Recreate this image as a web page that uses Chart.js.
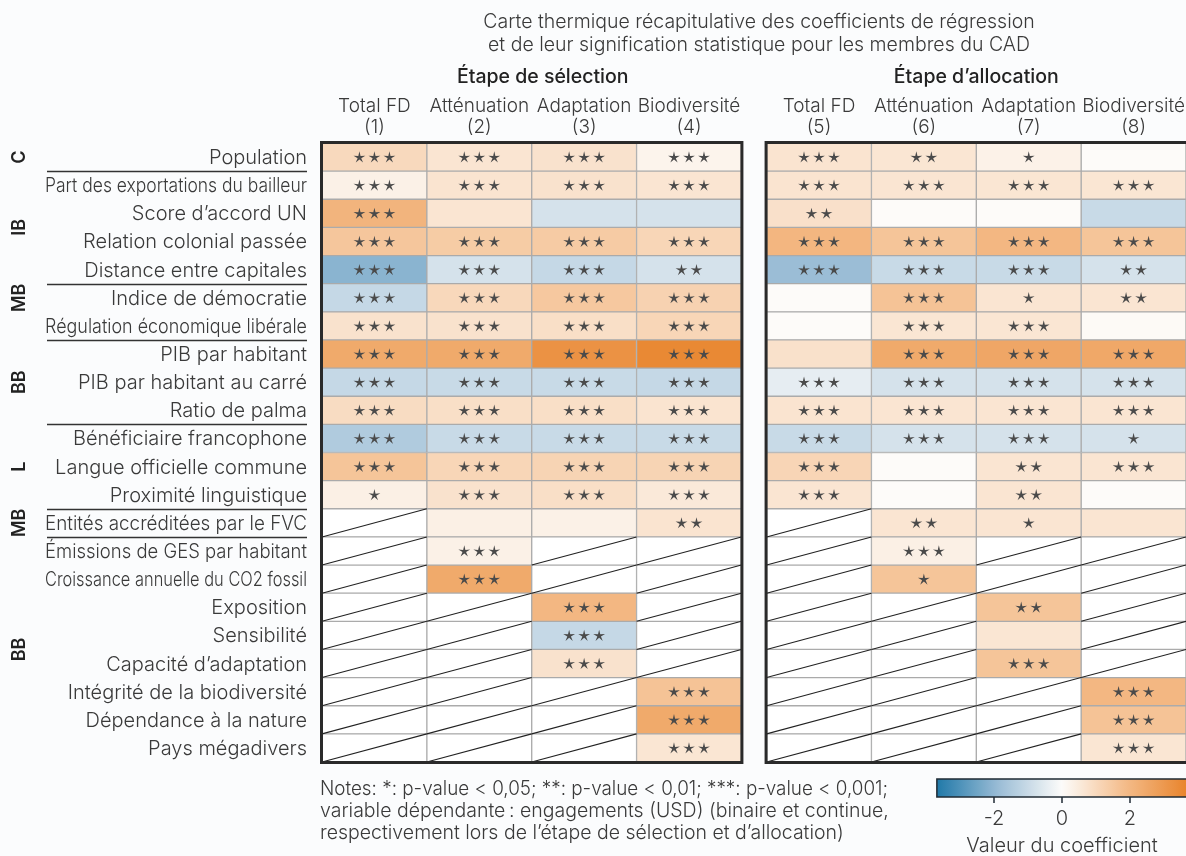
<!DOCTYPE html>
<html lang="fr">
<head>
<meta charset="utf-8">
<script src="https://cdn.jsdelivr.net/npm/chart.js@4.4.1/dist/chart.umd.min.js"></script>
<style>
  html, body { margin: 0; padding: 0; background: #fbfcfd; }
  #wrap { position: relative; width: 1186px; height: 856px; }
</style>
</head>
<body>
<div id="wrap"><canvas id="heat"></canvas></div>
<script>
// --- data ---
const rowLabels = [
  'Population', 'Part des exportations du bailleur', 'Score d’accord UN',
  'Relation colonial passée', 'Distance entre capitales', 'Indice de démocratie',
  'Régulation économique libérale', 'PIB par habitant', 'PIB par habitant au carré',
  'Ratio de palma', 'Bénéficiaire francophone', 'Langue officielle commune',
  'Proximité linguistique', 'Entités accréditées par le FVC', 'Émissions de GES par habitant',
  'Croissance annuelle du CO2 fossil', 'Exposition', 'Sensibilité', 'Capacité d’adaptation',
  'Intégrité de la biodiversité', 'Dépendance à la nature', 'Pays mégadivers'
];
const colTitles = ['Total FD', 'Atténuation', 'Adaptation', 'Biodiversité',
                   'Total FD', 'Atténuation', 'Adaptation', 'Biodiversité'];
const colNumbers = ['(1)', '(2)', '(3)', '(4)', '(5)', '(6)', '(7)', '(8)'];
const stageTitles = ['Étape de sélection', 'Étape d’allocation'];
const groupLabels = ['C', 'IB', 'MB', 'BB', 'L', 'MB', 'BB'];
const groupRows = [0, 2.5, 5, 8, 11, 13, 17.5];
const separatorsAfter = [0, 4, 6, 9, 12, 13];

// coefficients (null = variable not in the model)
const coefSel1 = [1.0, 0.32, 2.1, 1.55, -2.1, -1.05, 0.75, 2.45, -1.05, 0.93, -1.45, 1.6, 0.35,
  null, null, null, null, null, null, null, null, null];
const coefSel2 = [0.66, 0.7, 0.66, 1.4, -0.75, 1.04, 0.75, 2.45, -1.0, 0.84, -1.0, 1.1, 0.75,
  0.35, 0.32, 2.45, null, null, null, null, null, null];
const coefSel3 = [0.75, 0.75, -0.75, 1.42, -1.05, 1.5, 0.84, 3.2, -1.0, 0.84, -1.0, 1.15, 0.84,
  0.32, null, null, 2.0, -1.05, 0.75, null, null, null];
const coefSel4 = [0.23, 0.66, -0.75, 1.1, -0.75, 1.2, 1.1, 3.5, -1.05, 0.7, -1.0, 1.15, 0.55,
  0.7, null, null, null, null, null, 1.65, 2.45, 0.64];
const coefAll5 = [0.7, 0.7, 0.8, 2.05, -1.85, 0.02, 0.02, 0.77, -0.43, 0.7, -1.0, 1.13, 0.66,
  null, null, null, null, null, null, null, null, null];
const coefAll6 = [0.64, 0.66, 0.02, 1.6, -1.0, 1.65, 0.64, 2.45, -0.75, 0.66, -0.75, 0.02, 0.02,
  0.66, 0.35, 1.6, null, null, null, null, null, null];
const coefAll7 = [0.3, 0.64, 0.02, 2.0, -1.0, 0.66, 0.64, 2.55, -0.75, 0.66, -0.75, 0.66, 0.66,
  0.66, null, null, 1.6, 0.64, 1.6, null, null, null];
const coefAll8 = [0.02, 0.64, -1.0, 1.6, -0.75, 0.66, 0.06, 2.5, -0.75, 0.66, -0.75, 0.66, 0.02,
  0.66, null, null, null, null, null, 2.0, 1.65, 0.64];

// significance: number of stars
const starsSel1 = [3,3,3,3,3,3,3,3,3,3,3,3,1,0,0,0,0,0,0,0,0,0];
const starsSel2 = [3,3,0,3,3,3,3,3,3,3,3,3,3,0,3,3,0,0,0,0,0,0];
const starsSel3 = [3,3,0,3,3,3,3,3,3,3,3,3,3,0,0,0,3,3,3,0,0,0];
const starsSel4 = [3,3,0,3,2,3,3,3,3,3,3,3,3,2,0,0,0,0,0,3,3,3];
const starsAll5 = [3,3,2,3,3,0,0,0,3,3,3,3,3,0,0,0,0,0,0,0,0,0];
const starsAll6 = [2,3,0,3,3,3,3,3,3,3,3,0,0,2,3,1,0,0,0,0,0,0];
const starsAll7 = [1,3,0,3,3,1,3,3,3,3,3,2,2,1,0,0,2,0,3,0,0,0];
const starsAll8 = [0,3,0,3,2,2,0,3,3,3,1,3,0,0,0,0,0,0,0,3,3,3];

const cbarTicks = [-2, 0, 2];
const cbarMin = -3.68, cbarMax = 3.65;

const coefs = [coefSel1, coefSel2, coefSel3, coefSel4, coefAll5, coefAll6, coefAll7, coefAll8];
const stars = [starsSel1, starsSel2, starsSel3, starsSel4, starsAll5, starsAll6, starsAll7, starsAll8];

// --- colours ---
const cmapStops = [
  [-3.7, [31, 120, 168]],
  [-1.85, [155, 189, 214]],
  [0, [253, 252, 250]],
  [1.85, [244, 188, 138]],
  [3.7, [232, 131, 42]]
];
function cmap(v) {
  if (v === null) return '#ffffff';
  v = Math.max(-3.7, Math.min(3.7, v));
  for (let i = 0; i < cmapStops.length - 1; i++) {
    const [a, ca] = cmapStops[i], [b, cb] = cmapStops[i + 1];
    if (v <= b) {
      const t = (v - a) / (b - a);
      const c = ca.map((k, j) => Math.round(k + (cb[j] - k) * t));
      return `rgb(${c[0]},${c[1]},${c[2]})`;
    }
  }
  return 'rgb(232,131,42)';
}

const FONT = 'Inter, "Noto Sans", sans-serif';
const TEXT = '#3a3a3a';
const GAP = 0.24;

const datasets = [];
coefs.forEach((col, c) => {
  if (c === 4) {
    datasets.push({
      data: rowLabels.map(() => GAP),
      backgroundColor: 'rgba(0,0,0,0)', borderWidth: 0
    });
  }
  datasets.push({
    label: colTitles[c] + ' ' + colNumbers[c],
    data: rowLabels.map(() => 1),
    backgroundColor: col.map(cmap),
    borderColor: '#ababab',
    borderWidth: 1,
    borderSkipped: false
  });
});

function colStart(c) { return c + (c >= 4 ? GAP : 0); }

function drawStar(ctx, cx, cy, R, r) {
  ctx.beginPath();
  for (let i = 0; i < 10; i++) {
    const rad = i % 2 === 0 ? R : r;
    const a = -Math.PI / 2 + i * Math.PI / 5;
    const px = cx + rad * Math.cos(a), py = cy + rad * Math.sin(a);
    if (i === 0) ctx.moveTo(px, py); else ctx.lineTo(px, py);
  }
  ctx.closePath();
  ctx.fill();
}

const heatDecor = {
  id: 'heatDecor',
  beforeDraw(chart) {
    const ctx = chart.ctx;
    ctx.save();
    ctx.fillStyle = '#fbfcfd';
    ctx.fillRect(0, 0, chart.width, chart.height);
    ctx.restore();
  },
  afterDatasetsDraw(chart) {
    const ctx = chart.ctx, xs = chart.scales.x, ys = chart.scales.y;
    const half = (ys.getPixelForValue(1) - ys.getPixelForValue(0)) / 2;
    ctx.save();
    coefs.forEach((col, c) => {
      const x0 = xs.getPixelForValue(colStart(c)), x1 = xs.getPixelForValue(colStart(c) + 1);
      col.forEach((v, i) => {
        const yc = ys.getPixelForValue(i);
        if (v === null) {
          ctx.strokeStyle = '#222';
          ctx.lineWidth = 1.1;
          ctx.beginPath();
          ctx.moveTo(x0, yc + half);
          ctx.lineTo(x1, yc - half);
          ctx.stroke();
        }
        const n = stars[c][i];
        ctx.fillStyle = '#4a4a4a';
        const xm = (x0 + x1) / 2;
        for (let k = 0; k < n; k++) {
          drawStar(ctx, xm + (k - (n - 1) / 2) * 15, yc + 0.5, 6.2, 1.9);
        }
      });
    });
    ctx.restore();
  },
  afterDraw(chart) {
    const ctx = chart.ctx, xs = chart.scales.x, ys = chart.scales.y;
    const top = chart.chartArea.top, bottom = chart.chartArea.bottom;
    const half = (ys.getPixelForValue(1) - ys.getPixelForValue(0)) / 2;
    ctx.save();

    // panel borders
    ctx.strokeStyle = '#2a2a2a';
    ctx.lineWidth = 3;
    const lx0 = xs.getPixelForValue(0), lx1 = xs.getPixelForValue(4);
    ctx.strokeRect(lx0 - 0.5, top - 0.5, lx1 - lx0 + 1, bottom - top + 1);
    const rx0 = xs.getPixelForValue(colStart(4));
    ctx.beginPath();
    ctx.moveTo(chart.width + 2, top - 0.5);
    ctx.lineTo(rx0 - 0.5, top - 0.5);
    ctx.lineTo(rx0 - 0.5, bottom + 0.5);
    ctx.lineTo(chart.width + 2, bottom + 0.5);
    ctx.stroke();

    // row labels (long ones squeezed to fit, as in the source)
    ctx.fillStyle = TEXT;
    ctx.textAlign = 'right';
    ctx.textBaseline = 'middle';
    ctx.font = '300 20px ' + FONT;
    rowLabels.forEach((t, i) => {
      ctx.fillText(t, 307, ys.getPixelForValue(i) + 1, 262);
    });

    // title
    ctx.textAlign = 'center';
    ctx.font = '300 19.5px ' + FONT;
    ctx.fillText('Carte thermique récapitulative des coefficients de régression', 759, 22);
    ctx.fillText('et de leur signification statistique pour les membres du CAD', 759, 45);

    // stage titles
    ctx.fillStyle = '#222';
    ctx.font = '500 19.5px ' + FONT;
    ctx.fillText(stageTitles[0], (lx0 + lx1) / 2 + 11, 77);
    ctx.fillText(stageTitles[1], (rx0 + xs.getPixelForValue(colStart(7) + 1)) / 2, 77);

    // column headers
    ctx.fillStyle = TEXT;
    ctx.font = '300 19px ' + FONT;
    colTitles.forEach((t, c) => {
      const xm = xs.getPixelForValue(colStart(c) + 0.5);
      ctx.fillText(t, xm, 106);
      ctx.fillText(colNumbers[c], xm, 127);
    });

    // separators between groups
    ctx.strokeStyle = '#333';
    ctx.lineWidth = 1.3;
    separatorsAfter.forEach(i => {
      const yb = Math.round(ys.getPixelForValue(i) + half) + 0.5;
      ctx.beginPath();
      ctx.moveTo(47, yb);
      ctx.lineTo(307, yb);
      ctx.stroke();
    });

    // group labels (rotated)
    ctx.fillStyle = '#222';
    ctx.font = '600 18px ' + FONT;
    groupLabels.forEach((g, k) => {
      const yc = ys.getPixelForValue(0) + groupRows[k] * half * 2;
      ctx.save();
      ctx.translate(20, yc);
      ctx.rotate(-Math.PI / 2);
      ctx.fillText(g, 0, 0);
      ctx.restore();
    });

    // notes
    ctx.fillStyle = TEXT;
    ctx.textAlign = 'left';
    ctx.font = '300 19.5px ' + FONT;
    ctx.fillText('Notes: *: p-value < 0,05; **: p-value < 0,01; ***: p-value < 0,001;', 320, 789, 568);
    ctx.fillText('variable dépendante\u202F: engagements (USD) (binaire et continue,', 320, 811, 573);
    ctx.fillText('respectivement lors de l’étape de sélection et d’allocation)', 320, 833, 535);

    // colour bar
    const cbx = v => 1062 + v * 34;
    const cx0 = cbx(cbarMin), cx1 = cbx(cbarMax), cy0 = 779, cy1 = 797;
    const grad = ctx.createLinearGradient(cx0, 0, cx1, 0);
    for (let s = 0; s <= 40; s++) {
      const v = cbarMin + (cbarMax - cbarMin) * s / 40;
      grad.addColorStop(s / 40, cmap(v));
    }
    ctx.fillStyle = grad;
    ctx.fillRect(cx0, cy0, cx1 - cx0, cy1 - cy0);
    ctx.strokeStyle = '#1f2a33';
    ctx.lineWidth = 1.5;
    ctx.strokeRect(cx0, cy0, cx1 - cx0 + 2, cy1 - cy0);
    ctx.fillStyle = TEXT;
    ctx.textAlign = 'center';
    ctx.font = '300 20px ' + FONT;
    cbarTicks.forEach(t => {
      ctx.beginPath();
      ctx.moveTo(cbx(t), cy1);
      ctx.lineTo(cbx(t), cy1 + 6);
      ctx.stroke();
      ctx.fillText(String(t), cbx(t), 819);
    });
    ctx.fillText('Valeur du coefficient', 1062, 846);

    ctx.restore();
  }
};

new Chart(document.getElementById('heat'), {
  type: 'bar',
  data: { labels: rowLabels, datasets: datasets },
  options: {
    indexAxis: 'y',
    responsive: true,
    maintainAspectRatio: false,
    animation: false,
    layout: { padding: { top: 143, bottom: 94, left: 0, right: 0 } },
    datasets: { bar: { barPercentage: 1, categoryPercentage: 1 } },
    plugins: { legend: { display: false }, tooltip: { enabled: false } },
    scales: {
      x: { type: 'linear', stacked: true, min: 0, max: 8 + GAP, display: false },
      y: {
        type: 'category', stacked: true,
        grid: { display: false }, border: { display: false },
        ticks: { display: false },
        afterFit(scale) { scale.width = 322; }
      }
    }
  },
  plugins: [heatDecor]
});
</script>
</body>
</html>
